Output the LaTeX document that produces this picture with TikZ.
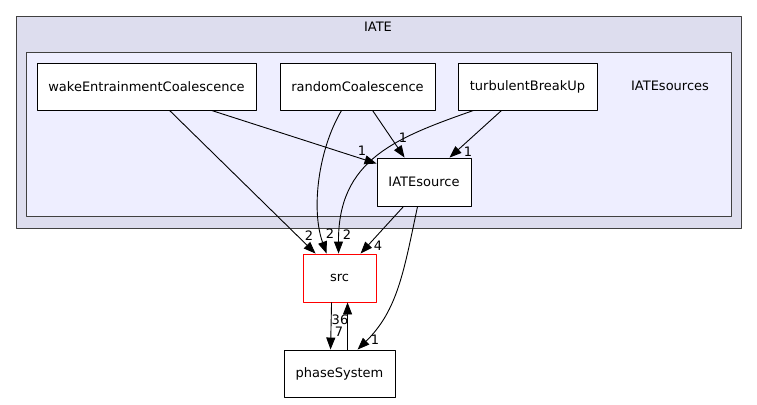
\documentclass[tikz,border=0pt]{standalone}
\usepackage{fontspec}
\setmainfont{DejaVu Sans}
\usetikzlibrary{arrows.meta}
\definecolor{cluOuter}{RGB}{221,221,238}
\definecolor{cluInner}{RGB}{238,238,255}
\definecolor{cluEdge}{RGB}{64,64,64}
\tikzset{dirbox/.style={draw=black,fill=white,line width=.9pt,inner sep=0pt,font=\fontsize{13}{15}\selectfont},
 outerclu/.style={draw=cluEdge,fill=cluOuter,line width=.9pt},
 innerclu/.style={draw=cluEdge,fill=cluInner,line width=.9pt},
 dep/.style={draw=black,line width=.9pt,-{Triangle[length=12pt,width=9pt]}},
 elabel/.style={inner sep=0pt,font=\fontsize{13}{15}\selectfont},
 every picture/.style={line join=round}}

\begin{document}
\begin{tikzpicture}[x=1pt,y=-1pt]
\useasboundingbox (0,0) rectangle (757,404);
\draw[outerclu] (16,16) rectangle (741,228);
\node[elabel] (iate) at (378,27) {IATE};
\draw[innerclu] (26,52) rectangle (731,216);
\node[elabel] (iatesources) at (670,86) {IATEsources};
\node[dirbox,minimum width=219pt,minimum height=47pt] (wake) at (146.5,86.5) {wakeEntrainmentCoalescence};
\node[dirbox,minimum width=155pt,minimum height=47pt] (random) at (357.5,86.5) {randomCoalescence};
\node[dirbox,minimum width=139pt,minimum height=47pt] (turb) at (527.5,86.5) {turbulentBreakUp};
\node[dirbox,minimum width=94pt,minimum height=48pt] (source) at (424,182) {IATEsource};
\node[dirbox,draw=red,minimum width=73pt,minimum height=48pt] (src) at (339.5,278) {src};
\node[dirbox,minimum width=111pt,minimum height=47pt] (phase) at (339.5,373.5) {phaseSystem};
% dependencies
\draw[dep] ([xshift=133pt]wake.south west) -- ([xshift=13pt]src.north west);
\draw[dep] ([xshift=175pt]wake.south west) -- ([yshift=-6pt]source.north west);
\draw[dep] ([xshift=62pt]random.south west) .. controls (318,150) and (311,210) .. ([xshift=24pt]src.north west);
\draw[dep] ([xshift=93pt]random.south west) -- ([xshift=28pt]source.north west);
\draw[dep] ([xshift=44pt]turb.south west) -- ([xshift=73pt]source.north west);
\draw[dep] ([xshift=16pt]turb.south west) .. controls (395,138) and (338,160) .. ([xshift=36pt]src.north west);
\draw[dep] ([xshift=27pt]source.south west) -- ([xshift=58pt]src.north west);
\draw[dep] ([xshift=41pt]source.south west) .. controls (404,270) and (398,310) .. ([xshift=74pt]phase.north west);
\draw[dep] ([xshift=29pt]src.south west) -- ([xshift=47pt]phase.north west);
\draw[dep] ([xshift=64pt]phase.north west) -- ([xshift=45pt]src.south west);
% counts
\node[elabel] (n1) at (309,236) {2};
\node[elabel] (n2) at (330,234) {2};
\node[elabel] (n3) at (347,235) {2};
\node[elabel] (n4) at (378,246) {4};
\node[elabel] (n5) at (362,151) {1};
\node[elabel] (n6) at (403,138) {1};
\node[elabel] (n7) at (468,152) {1};
\node[elabel] (n8) at (375,340) {1};
\node[elabel] (n9) at (340,319.5) {36};
\node[elabel] (n10) at (339,331.5) {7};
\end{tikzpicture}
\end{document}
